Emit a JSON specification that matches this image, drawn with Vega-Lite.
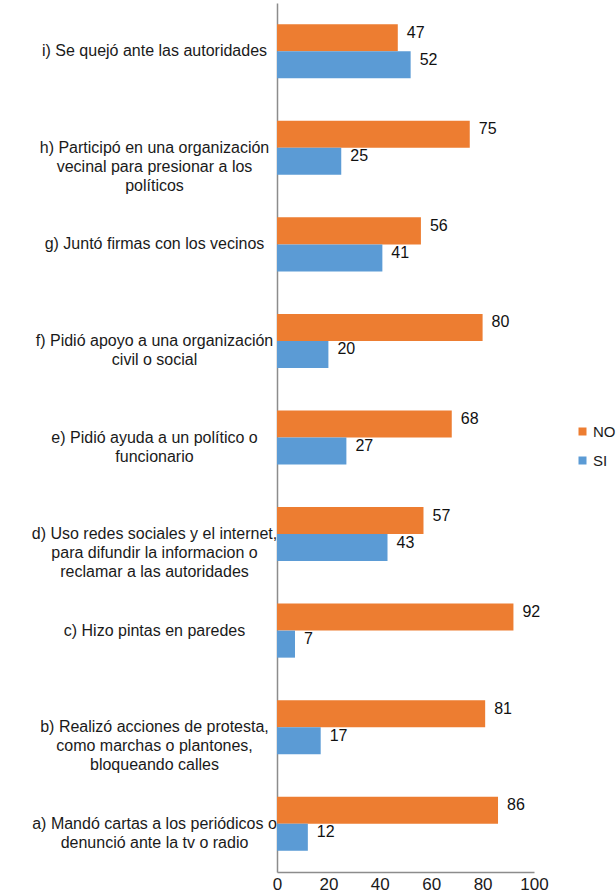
{
  "$schema": "https://vega.github.io/schema/vega-lite/v6.json",
  "width": 257,
  "height": 869,
  "autosize": {"type": "none"},
  "padding": {"left": 277, "top": 3, "right": 82, "bottom": 22},
  "background": "white",
  "config": {
    "font": "Liberation Sans",
    "view": {"stroke": null}
  },
  "data": {
    "values": [
      {"cat": "i) Se quejó ante las autoridades", "resp": "NO", "value": 47},
      {"cat": "i) Se quejó ante las autoridades", "resp": "SI", "value": 52},
      {"cat": "h) Participó en una organización|vecinal para presionar a los|políticos", "resp": "NO", "value": 75},
      {"cat": "h) Participó en una organización|vecinal para presionar a los|políticos", "resp": "SI", "value": 25},
      {"cat": "g) Juntó firmas con los vecinos", "resp": "NO", "value": 56},
      {"cat": "g) Juntó firmas con los vecinos", "resp": "SI", "value": 41},
      {"cat": "f) Pidió apoyo a una organización|civil o social", "resp": "NO", "value": 80},
      {"cat": "f) Pidió apoyo a una organización|civil o social", "resp": "SI", "value": 20},
      {"cat": "e) Pidió ayuda a un político o|funcionario", "resp": "NO", "value": 68},
      {"cat": "e) Pidió ayuda a un político o|funcionario", "resp": "SI", "value": 27},
      {"cat": "d) Uso redes sociales y el internet,|para difundir la informacion o|reclamar a las autoridades", "resp": "NO", "value": 57},
      {"cat": "d) Uso redes sociales y el internet,|para difundir la informacion o|reclamar a las autoridades", "resp": "SI", "value": 43},
      {"cat": "c) Hizo pintas en paredes", "resp": "NO", "value": 92},
      {"cat": "c) Hizo pintas en paredes", "resp": "SI", "value": 7},
      {"cat": "b) Realizó acciones de protesta,|como marchas o plantones,|bloqueando calles", "resp": "NO", "value": 81},
      {"cat": "b) Realizó acciones de protesta,|como marchas o plantones,|bloqueando calles", "resp": "SI", "value": 17},
      {"cat": "a) Mandó cartas a los periódicos o|denunció ante la tv o radio", "resp": "NO", "value": 86},
      {"cat": "a) Mandó cartas a los periódicos o|denunció ante la tv o radio", "resp": "SI", "value": 12}
    ]
  },
  "encoding": {
    "y": {
      "field": "cat",
      "type": "nominal",
      "sort": null,
      "title": null,
      "scale": {"paddingInner": 0.44, "paddingOuter": 0.22},
      "axis": {
        "labelExpr": "split(datum.label, '|')",
        "labelAlign": "center",
        "labelBaseline": "middle",
        "labelPadding": 123,
        "labelLimit": 300,
        "labelFontSize": 16,
        "labelLineHeight": 19,
        "labelColor": "#1a1a1a",
        "ticks": false,
        "domainColor": "#8c8c8c",
        "domainWidth": 1.5,
        "grid": false
      }
    },
    "yOffset": {"field": "resp", "type": "nominal", "sort": ["NO", "SI"]},
    "x": {
      "field": "value",
      "type": "quantitative",
      "title": null,
      "scale": {"domain": [0, 100], "nice": false},
      "axis": {
        "values": [0, 20, 40, 60, 80, 100],
        "grid": false,
        "ticks": false,
        "labelFontSize": 17,
        "labelColor": "#1a1a1a",
        "labelPadding": 4,
        "labelFlush": false,
        "domainColor": "#8c8c8c",
        "domainWidth": 1.5
      }
    }
  },
  "layer": [
    {
      "mark": {"type": "bar"},
      "encoding": {
        "color": {
          "field": "resp",
          "type": "nominal",
          "scale": {"domain": ["NO", "SI"], "range": ["#ED7D31", "#5B9BD5"]},
          "legend": {
            "title": null,
            "orient": "none",
            "legendX": 298,
            "legendY": 421,
            "symbolType": "square",
            "symbolSize": 64,
            "symbolStrokeWidth": 0,
            "labelFontSize": 15,
            "labelColor": "#1a1a1a",
            "labelOffset": 3,
            "rowPadding": 13
          }
        }
      }
    },
    {
      "mark": {"type": "text", "align": "left", "baseline": "middle", "dx": 9, "dy": -5, "fontSize": 16, "color": "#111111"},
      "encoding": {
        "text": {"field": "value", "type": "quantitative"}
      }
    }
  ]
}
